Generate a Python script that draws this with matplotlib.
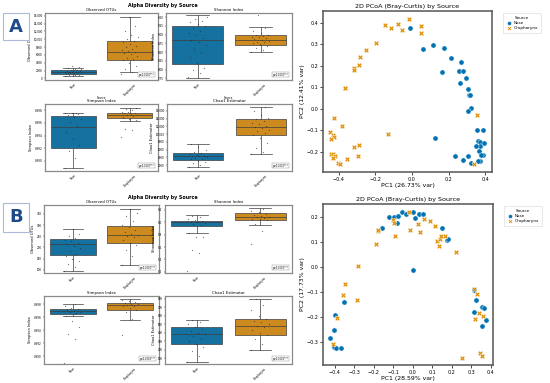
import matplotlib
matplotlib.use("Agg")
import matplotlib.pyplot as plt
from matplotlib.patches import FancyBboxPatch
from matplotlib.ticker import FuncFormatter
import numpy as np

groups = ["Nose", "Oropharynx"]
metrics = ["Observed OTUs", "Shannon Index", "Simpson Index", "Chao1 Estimator"]
blue_box, orange_box = "#15719f", "#cc8a1f"
blue_pt, orange_pt = "#0173B2", "#DE8F05"

# ---- panel A box stats: (whislo, q1, med, q3, whishi)
a_stats = {
    "Observed OTUs": [(650, 1130, 1600, 2180, 2750), (1600, 4700, 6700, 9450, 15700)],
    "Shannon Index": [(7.75, 8.15, 8.85, 9.25, 9.55), (8.5, 8.7, 8.86, 8.98, 9.23)],
    "Simpson Index": [(0.9889, 0.9921, 0.9953, 0.9971, 0.9976), (0.99635, 0.99671, 0.99723, 0.99764, 0.99836)],
    "Chao1 Estimator": [(1500, 3400, 4400, 5100, 7600), (4800, 9800, 11900, 13800, 17000)],
}
a_points = {
    "Observed OTUs": [
        [600, 800, 900, 1000, 1100, 1150, 1200, 1300, 1350, 1400, 1500, 1550, 1600, 1650, 1700, 1750,
         1800, 1900, 2000, 2100, 2200, 2300, 2500, 2700, 2900, 3300],
        [1100, 1700, 2500, 3200, 4000, 4600, 4900, 5300, 5800, 6200, 6500, 6800, 7000, 7300, 7600, 8000,
         8400, 8800, 9200, 9500, 10000, 10600, 11200, 12200, 13300, 15600]],
    "Shannon Index": [
        [7.78, 7.9, 8.0, 8.05, 8.2, 8.35, 8.5, 8.6, 8.7, 8.8, 8.85, 8.9, 9.0, 9.05, 9.1, 9.2, 9.25,
         9.3, 9.35, 9.4, 9.45, 9.5],
        [8.5, 8.55, 8.62, 8.68, 8.72, 8.75, 8.78, 8.8, 8.83, 8.85, 8.87, 8.9, 8.92, 8.94, 8.96, 8.98,
         9.0, 9.05, 9.1, 9.2, 9.55]],
    "Simpson Index": [
        [0.9889, 0.9905, 0.9915, 0.9925, 0.9935, 0.9945, 0.9955, 0.9962, 0.9967, 0.9970, 0.9972,
         0.9974, 0.9975, 0.9976, 0.9976],
        [0.99372, 0.99496, 0.99506, 0.99640, 0.99660, 0.99690, 0.99710, 0.99720, 0.99730, 0.99740,
         0.99750, 0.99760, 0.99770, 0.99780, 0.99800, 0.99820, 0.99835]],
    "Chao1 Estimator": [
        [1500, 2000, 2500, 2900, 3200, 3500, 3700, 3900, 4100, 4300, 4400, 4500, 4700, 4900, 5100, 5500,
         6000, 6800, 7500],
        [4900, 5300, 6500, 7800, 9000, 9800, 10300, 10800, 11200, 11600, 11900, 12200, 12600, 13000,
         13400, 13800, 14300, 15000, 16000, 16900]],
}
a_ylim = {"Observed OTUs": (-400, 16700), "Shannon Index": (7.7, 9.62),
          "Simpson Index": (0.9884, 0.9990), "Chao1 Estimator": (500, 17800)}

# ---- panel B box stats
b_stats = {
    "Observed OTUs": [(96, 166, 213, 237, 281), (122, 218, 254, 296, 372)],
    "Shannon Index": [(5.82, 5.946, 6.0, 6.029, 6.117), (5.962, 6.034, 6.084, 6.145, 6.228)],
    "Simpson Index": [(0.99616, 0.99658, 0.99695, 0.99732, 0.9980), (0.99565, 0.99711, 0.99784, 0.99826, 0.99878)],
    "Chao1 Estimator": [(52, 268, 380, 460, 552), (200, 368, 480, 560, 800)],
}
b_points = {
    "Observed OTUs": [
        [96, 110, 125, 140, 150, 160, 170, 185, 195, 205, 213, 220, 228, 235, 240, 250, 262, 281],
        [122, 160, 190, 210, 220, 235, 245, 250, 255, 262, 270, 280, 290, 300, 320, 340, 355, 372]],
    "Shannon Index": [
        [5.206, 5.504, 5.559, 5.758, 5.769, 5.83, 5.95, 5.97, 5.99, 6.0, 6.01, 6.02, 6.03, 6.05, 6.08, 6.11],
        [5.642, 5.852, 5.97, 6.03, 6.05, 6.06, 6.07, 6.08, 6.09, 6.1, 6.12, 6.14, 6.16, 6.19, 6.22]],
    "Simpson Index": [
        [0.98899, 0.9926, 0.99338, 0.99448, 0.99548, 0.9962, 0.9966, 0.9968, 0.9969, 0.9970, 0.9971,
         0.9973, 0.9975, 0.9977, 0.9980],
        [0.99328, 0.9957, 0.9968, 0.9972, 0.9975, 0.9977, 0.9978, 0.9979, 0.9980, 0.9981, 0.9982,
         0.9983, 0.9985, 0.9987]],
    "Chao1 Estimator": [
        [52, 120, 180, 230, 270, 300, 330, 360, 380, 400, 420, 440, 460, 500, 530, 550],
        [200, 260, 320, 370, 400, 430, 460, 480, 500, 520, 540, 560, 600, 660, 720, 800]],
}
b_ylim = {"Observed OTUs": (85, 390), "Shannon Index": (5.18, 6.28),
          "Simpson Index": (0.9888, 0.9993), "Chao1 Estimator": (30, 830)}

# ---- PCoA coordinates
a_nose = [(-0.011, 0.376), (0.062, 0.279), (0.116, 0.296), (0.176, 0.285), (0.165, 0.169), (0.212, 0.235),
          (0.267, 0.218), (0.256, 0.176), (0.278, 0.176), (0.263, 0.122), (0.296, 0.142), (0.305, 0.091),
          (0.310, 0.062), (0.319, 0.065), (0.325, 0.003), (0.305, -0.011), (0.354, -0.098), (0.388, -0.098),
          (0.361, -0.149), (0.372, -0.155), (0.370, -0.175), (0.366, -0.194), (0.350, -0.175), (0.395, -0.159),
          (0.386, -0.214), (0.377, -0.214), (0.370, -0.245), (0.359, -0.241), (0.308, -0.221), (0.321, -0.251),
          (0.278, -0.237), (0.234, -0.218), (0.127, -0.138)]
a_oro = [(-0.145, 0.389), (-0.112, 0.375), (-0.078, 0.396), (-0.053, 0.365), (-0.016, 0.420), (0.051, 0.384),
         (0.049, 0.353), (-0.198, 0.305), (-0.250, 0.272), (-0.283, 0.243), (-0.290, 0.203), (-0.314, 0.192),
         (-0.314, 0.180), (-0.368, 0.096), (-0.365, 0.098), (-0.428, -0.042), (-0.381, -0.082), (-0.446, -0.110),
         (-0.432, -0.121), (-0.428, -0.133), (-0.442, -0.141), (-0.129, -0.119), (0.357, -0.028), (-0.316, -0.176),
         (-0.288, -0.170), (-0.441, -0.209), (-0.434, -0.209), (-0.419, -0.218), (-0.433, -0.231), (-0.356, -0.234),
         (-0.296, -0.221), (-0.405, -0.252), (-0.395, -0.259), (0.336, -0.257)]
b_nose = [(-0.422, -0.284), (-0.403, -0.251), (-0.397, -0.192), (-0.405, -0.320), (-0.391, -0.323),
          (-0.368, -0.323), (-0.354, -0.139), (-0.159, 0.157), (-0.120, 0.200), (-0.097, 0.200), (-0.080, 0.176),
          (-0.074, 0.204), (-0.055, 0.221), (-0.034, 0.211), (0.0, 0.219), (0.012, 0.197), (0.031, 0.211),
          (0.053, 0.213), (0.150, 0.156), (0.176, 0.107), (0.183, 0.111), (0.002, -0.013), (0.316, -0.091),
          (0.325, -0.133), (0.315, -0.179), (0.356, -0.160), (0.364, -0.163), (0.374, -0.213), (0.356, -0.236)]
b_oro = [(-0.188, 0.091), (-0.179, 0.143), (-0.178, 0.149), (-0.279, 0.005), (-0.349, -0.069), (-0.359, -0.111),
         (-0.285, -0.131), (-0.388, -0.203), (-0.410, -0.309), (-0.103, 0.187), (-0.097, 0.177), (-0.092, 0.123),
         (-0.015, 0.149), (-0.021, 0.219), (0.026, 0.173), (0.039, 0.139), (0.056, 0.193), (0.087, 0.183),
         (0.116, 0.165), (0.125, 0.104), (0.138, 0.111), (0.135, 0.083), (0.144, 0.123), (0.164, 0.124),
         (0.222, 0.059), (0.313, -0.089), (0.330, -0.108), (0.321, -0.207), (0.338, -0.185), (0.359, -0.197),
         (0.347, -0.343), (0.354, -0.355), (0.253, -0.363)]

W, H = 550, 383
fig = plt.figure(figsize=(5.5, 3.83), dpi=100)


def px_axes(x0, y0, x1, y1):
    return fig.add_axes([x0 / W, 1 - y1 / H, (x1 - x0) / W, (y1 - y0) / H])


def style_spines(ax, color="#8a8a8a", lw=0.9):
    for s in ax.spines.values():
        s.set_color(color)
        s.set_linewidth(lw)


def big_fmt(v, pos):
    if abs(v) >= 10000:
        return f"{v:,.0f}"
    return f"{v:.0f}"


def box_panel(ax, metric, stats, points, ylim, pval, show_xlabel, comma=False):
    bx = []
    for (lo, q1, med, q3, hi) in stats:
        bx.append({"whislo": lo, "q1": q1, "med": med, "q3": q3, "whishi": hi, "fliers": []})
    art = ax.bxp(bx, positions=[0, 1], widths=0.8, patch_artist=True, showfliers=False,
                 capwidths=0.35,
                 boxprops=dict(edgecolor="#3d3d3d", linewidth=0.5),
                 medianprops=dict(color="#3d3d3d", linewidth=0.5),
                 whiskerprops=dict(color="#3d3d3d", linewidth=0.5),
                 capprops=dict(color="#3d3d3d", linewidth=0.5))
    for patch, c in zip(art["boxes"], [blue_box, orange_box]):
        patch.set_facecolor(c)
    for i, vals in enumerate(points):
        n = len(vals)
        jit = [((k * 0.618) % 1 - 0.5) * 0.3 for k in range(n)]
        ax.scatter(np.array(jit) + i, vals, s=0.8, color="#222222", alpha=0.6, linewidths=0, zorder=3)
    ax.set_xlim(-0.5, 1.5)
    ax.set_ylim(*ylim)
    if comma:
        ax.yaxis.set_major_formatter(FuncFormatter(big_fmt))
    ax.set_xticks([0, 1])
    ax.set_xticklabels(groups, rotation=45, fontsize=2.2)
    ax.tick_params(axis="both", labelsize=2.0, length=1, width=0.3, pad=0.8)
    ax.set_title(metric, fontsize=2.8, pad=1.2)
    ax.set_ylabel(metric, fontsize=2.6, labelpad=1.2)
    if show_xlabel:
        ax.set_xlabel("Source", fontsize=2.0, labelpad=-0.3)
    ax.text(0.97, 0.05, pval, transform=ax.transAxes, fontsize=1.8, ha="right", va="bottom",
            bbox=dict(boxstyle="square,pad=0.3", fc="white", ec="#888888", lw=0.3))
    style_spines(ax)


def pcoa_panel(ax, nose, oro, xlim, ylim, xt, yt, xlab, ylab):
    nx, ny = zip(*nose)
    ox, oy = zip(*oro)
    ax.scatter(nx, ny, s=14, color=blue_pt, marker="o", edgecolors="white", linewidths=0.3, label="Nose")
    ax.scatter(ox, oy, s=14, color=orange_pt, marker="X", edgecolors="white", linewidths=0.3, label="Oropharynx")
    ax.set_xlim(*xlim)
    ax.set_ylim(*ylim)
    ax.set_xticks(xt)
    ax.set_yticks(yt)
    ax.tick_params(labelsize=3.5, length=2, width=0.5, pad=1.5)
    ax.set_xlabel(xlab, fontsize=4.4, labelpad=1)
    ax.set_ylabel(ylab, fontsize=4.4, labelpad=1)
    ax.set_title("2D PCoA (Bray-Curtis) by Source", fontsize=4.6, pad=2)
    style_spines(ax, "#555555", 1.1)
    leg = ax.legend(title="Source", loc="upper left", bbox_to_anchor=(1.05, 1.0), fontsize=3.0,
                    title_fontsize=3.0, frameon=True, markerscale=0.75, borderpad=0.7,
                    handletextpad=0.3, labelspacing=0.25, handlelength=1.6)
    leg.get_frame().set_linewidth(0.4)
    leg.get_frame().set_edgecolor("#cccccc")


def panel_label(x0, y0, x1, y1, letter):
    box = FancyBboxPatch((x0 / W, 1 - y1 / H), (x1 - x0) / W, (y1 - y0) / H,
                         boxstyle="square,pad=0", transform=fig.transFigure,
                         fc="white", ec="#a9b9d6", lw=0.8)
    fig.patches.append(box)
    fig.text((x0 + x1) / 2 / W, 1 - (y0 + y1) / 2 / H, letter, fontsize=13, fontweight="bold",
             color="#1f4a8a", ha="center", va="center")


# ----- Panel A -----
panel_label(3, 13, 29, 40, "A")
fig.text(163 / W, 1 - 5 / H, "Alpha Diversity by Source", fontsize=3.4, fontweight="bold",
         ha="center", va="center")
a_boxes = [(45, 13, 158, 80), (166, 13, 292, 80), (45, 104, 158, 171), (167, 104, 292, 171)]
for m, bb in zip(metrics, a_boxes):
    ax = px_axes(*bb)
    box_panel(ax, m, a_stats[m], a_points[m], a_ylim[m], "p=0.0000***", bb[1] < 50,
              comma=m in ("Observed OTUs", "Chao1 Estimator"))

ax = px_axes(323, 11, 492, 172)
pcoa_panel(ax, a_nose, a_oro, (-0.486, 0.437), (-0.294, 0.455),
           [-0.4, -0.2, 0.0, 0.2, 0.4], [-0.2, -0.1, 0.0, 0.1, 0.2, 0.3, 0.4],
           "PC1 (26.73% var)", "PC2 (12.41% var)")

# ----- Panel B -----
panel_label(3, 203, 29, 232, "B")
fig.text(163 / W, 1 - 197 / H, "Alpha Diversity by Source", fontsize=3.4, fontweight="bold",
         ha="center", va="center")
b_boxes = [(44, 205, 159, 273), (165, 205, 292, 273), (44, 296, 159, 364), (165, 296, 292, 364)]
for m, bb in zip(metrics, b_boxes):
    ax = px_axes(*bb)
    box_panel(ax, m, b_stats[m], b_points[m], b_ylim[m], "p=0.0001***", False)

ax = px_axes(323, 204, 493, 365)
pcoa_panel(ax, b_nose, b_oro, (-0.460, 0.412), (-0.392, 0.251),
           [-0.4, -0.3, -0.2, -0.1, 0.0, 0.1, 0.2, 0.3, 0.4], [-0.3, -0.2, -0.1, 0.0, 0.1, 0.2],
           "PC1 (28.59% var)", "PC2 (17.73% var)")

fig.savefig("out.png", dpi=100)
